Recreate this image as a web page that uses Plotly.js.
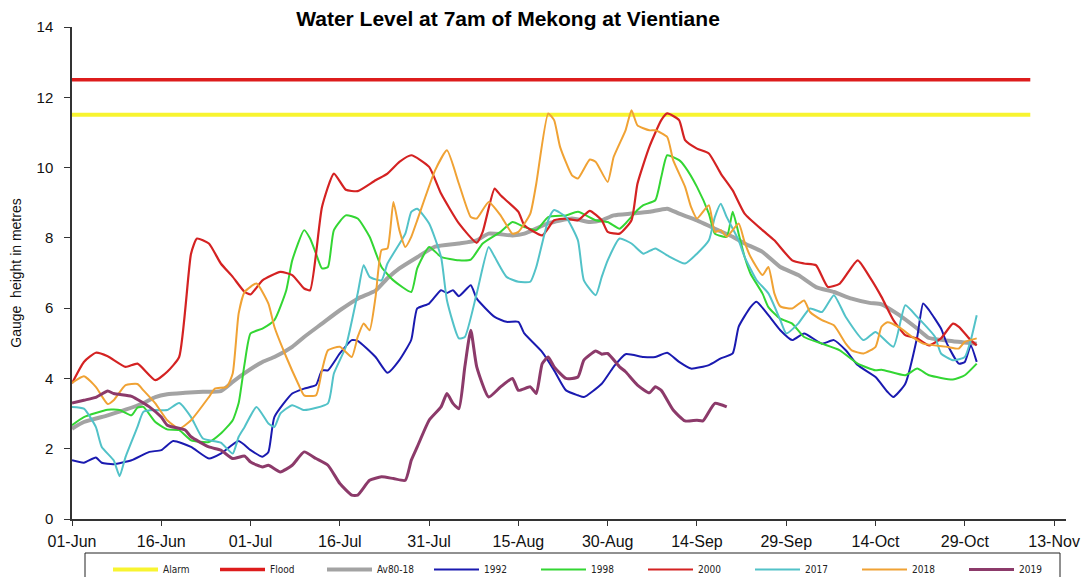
<!DOCTYPE html>
<html>
<head>
<meta charset="utf-8">
<script src="https://cdn.plot.ly/plotly-3.0.1.min.js"></script>
<style>html,body{margin:0;padding:0;background:#fff;}#chart{width:1086px;height:577px;}</style>
</head>
<body>
<div id="chart"></div>
<script>
// Day offsets are counted from 01-Jun
const startDate = Date.UTC(2019, 5, 1);

const alarmDays = [0, 161];
const alarmLevel = [11.5, 11.5];
const floodDays = [0, 161];
const floodLevel = [12.5, 12.5];

const avgDays = [0,2,6,9,12,14,16,19,22,25,27,29,32,34,37,39,42,45,48,51,53,55,58,61,65,68,70,74,76,80,84,87,89,91,94,97,100,102,105,108,111,113,116,119,122,125,128,131,134,136,139,142,144,148,152];
const avgLevel = [2.57,2.76,2.95,3.11,3.30,3.47,3.55,3.59,3.62,3.64,3.90,4.15,4.47,4.61,4.90,5.18,5.56,5.94,6.27,6.50,6.85,7.13,7.45,7.75,7.84,7.93,8.12,8.07,8.12,8.41,8.55,8.45,8.50,8.64,8.69,8.74,8.83,8.69,8.50,8.26,8.03,7.84,7.60,7.17,6.94,6.60,6.46,6.27,6.15,6.11,5.80,5.42,5.15,5.06,4.99];

const days1992 = [0,2,4,5,7,10,13,15,17,20,23,25,28,30,32,33,34,37,39,41,42,43,45,47,48,51,53,55,57,58,60,62,63,64,65,67,68,71,73,75,76,79,81,83,85,86,89,91,93,96,98,100,102,104,107,109,111,112,114,115,117,119,121,123,126,128,130,132,135,137,138,140,142,143,144,146,147,149,150,151,152];
const lvl1992 = [1.67,1.60,1.75,1.60,1.56,1.67,1.91,1.96,2.22,2.05,1.72,1.86,2.22,1.96,1.77,1.91,2.90,3.57,3.71,3.81,4.23,4.23,4.71,5.09,5.07,4.61,4.16,4.52,5.10,5.99,6.13,6.51,6.43,6.51,6.34,6.65,6.27,5.75,5.61,5.61,5.28,4.75,4.23,3.66,3.52,3.47,3.85,4.33,4.69,4.61,4.61,4.73,4.47,4.28,4.38,4.57,4.71,5.47,6.03,6.18,5.80,5.37,5.09,5.28,4.99,5.09,4.80,4.38,4.04,3.62,3.47,3.85,5.18,6.13,5.94,5.42,4.99,4.42,4.47,4.94,4.47];

const days1998 = [0,2,6,8,10,11,12,14,16,18,20,23,25,27,28,29,30,32,34,36,37,39,40,41,42,43,44,46,48,50,52,54,57,58,60,62,65,67,69,72,74,76,78,80,83,85,88,90,92,93,95,96,98,99,100,102,103,105,107,108,110,111,112,113,114,116,117,119,121,123,126,129,132,135,136,140,142,144,148,150,152];
const lvl1998 = [2.67,2.90,3.11,3.10,2.95,3.17,3.19,2.76,2.55,2.53,2.24,2.19,2.43,2.81,3.30,4.42,5.28,5.42,5.66,6.51,7.36,8.22,7.98,7.55,7.13,7.17,8.22,8.64,8.55,8.03,7.17,6.79,6.46,7.13,7.74,7.46,7.36,7.38,7.84,8.17,8.45,8.31,8.22,8.59,8.64,8.74,8.50,8.45,8.26,8.41,8.79,8.93,9.07,9.73,10.35,10.21,10.02,9.45,8.69,8.12,8.03,8.74,8.12,7.46,6.98,6.42,6.03,5.70,5.56,5.18,4.99,4.80,4.42,4.23,4.25,4.09,4.28,4.09,3.97,4.09,4.42];

const days2000 = [0,2,4,6,9,11,14,16,18,20,21,23,25,27,29,30,32,35,37,39,40,42,44,46,48,51,53,55,57,60,62,65,68,69,71,72,75,76,79,81,83,85,87,89,90,92,94,95,97,99,100,102,103,105,107,109,111,113,116,118,121,123,125,127,129,132,134,136,138,140,142,144,146,148,149,151,152];
const lvl2000 = [3.86,4.47,4.73,4.63,4.33,4.42,3.95,4.19,4.61,7.55,7.98,7.84,7.27,6.89,6.46,6.39,6.79,7.03,6.94,6.56,6.51,8.88,9.83,9.37,9.33,9.64,9.83,10.16,10.35,10.02,9.26,8.41,7.86,8.17,9.40,9.21,8.74,8.36,8.07,8.50,8.55,8.50,8.77,8.50,8.17,8.12,8.50,9.54,10.59,11.35,11.54,11.35,10.78,10.54,10.40,9.83,9.35,8.69,8.22,7.93,7.36,7.27,7.22,6.60,6.70,7.36,6.89,6.32,5.66,5.23,5.14,4.94,5.14,5.56,5.47,5.09,4.94];

const days2017 = [0,2,4,5,7,8,9,11,12,14,16,18,20,22,25,27,28,29,31,33,34,35,37,39,43,44,46,48,49,50,52,53,56,57,58,60,62,63,65,66,68,70,71,73,75,77,78,80,81,83,85,86,88,89,90,92,94,96,98,100,103,105,107,108,109,110,112,113,115,117,119,120,122,124,126,128,130,133,135,138,140,142,145,146,148,150,151,152];
const lvl2017 = [3.19,3.14,2.62,2.05,1.67,1.22,1.77,2.62,3.05,3.10,3.10,3.30,2.90,2.29,2.17,1.86,2.34,2.62,3.19,2.72,2.62,3.00,3.24,3.10,3.29,4.14,4.90,6.42,7.22,6.89,6.79,7.27,8.12,8.74,8.83,8.41,7.46,6.22,5.14,5.18,6.42,7.74,7.46,6.89,6.75,6.75,7.17,8.50,8.79,8.59,7.93,6.79,6.37,6.89,7.36,7.98,7.84,7.55,7.70,7.50,7.27,7.55,7.93,8.59,8.97,8.59,7.93,7.46,6.80,6.42,5.66,5.28,5.56,5.99,5.89,6.37,5.75,5.09,5.32,4.90,6.08,5.75,5.18,4.71,4.52,4.61,5.09,5.80];

const days2018 = [0,2,4,6,7,9,11,12,14,16,18,20,23,24,26,27,28,29,31,33,34,36,38,39,41,42,43,45,47,48,49,50,51,52,53,54,55,56,57,58,61,63,65,67,68,70,72,74,75,77,78,80,81,82,84,85,87,88,90,91,93,94,95,97,98,100,101,103,104,105,107,108,109,110,112,113,114,116,117,118,119,121,123,124,126,128,130,131,133,135,136,137,139,141,143,147,149,150,152];
const lvl2018 = [3.87,4.06,3.76,3.27,3.38,3.81,3.84,3.66,3.29,2.81,2.57,2.81,3.47,3.71,3.76,4.14,5.85,6.46,6.70,6.13,5.47,4.61,3.85,3.52,3.52,4.23,4.80,4.90,4.61,5.18,5.56,5.37,6.32,7.65,7.70,9.02,8.22,7.74,8.03,8.50,9.92,10.49,9.54,8.59,8.55,9.02,8.64,8.12,8.17,8.69,9.54,11.54,11.35,10.59,9.78,9.69,10.23,10.16,9.59,10.30,11.06,11.63,11.20,11.06,11.06,10.87,10.21,9.45,8.88,8.55,8.93,8.17,8.22,8.03,8.41,7.88,7.46,6.94,7.17,6.42,6.05,5.99,6.22,5.89,5.66,5.51,4.99,4.80,4.71,4.90,5.47,5.60,5.45,5.20,4.99,4.90,4.85,5.04,5.14];

const days2019 = [0,2,4,6,7,10,11,13,15,16,19,20,23,25,27,29,30,32,33,35,37,39,41,43,45,47,48,50,52,54,56,57,58,60,62,63,64,65,66,67,68,70,72,74,75,77,78,79,80,81,83,85,86,88,89,90,92,93,95,97,98,99,101,103,105,106,108,110];
const lvl2019 = [3.30,3.38,3.46,3.64,3.57,3.49,3.40,3.19,2.90,2.67,2.53,2.34,2.05,1.96,1.72,1.79,1.62,1.48,1.53,1.34,1.53,1.91,1.72,1.53,1.01,0.68,0.68,1.10,1.20,1.15,1.10,1.67,2.05,2.81,3.19,3.57,3.29,3.14,4.33,5.37,4.33,3.47,3.76,4.00,3.66,3.76,3.57,4.42,4.61,4.33,4.00,4.04,4.52,4.78,4.69,4.71,4.33,4.19,3.81,3.59,3.76,3.66,3.10,2.79,2.81,2.79,3.29,3.19];

const tickStep = 15;       // days between x ticks
const axisEndDay = 167;    // right end of x axis

function toDate(d) {
  const t = new Date(startDate + d * 86400000).toISOString();
  return t.slice(0, 10) + ' ' + t.slice(11, 19);
}

const series = [
  {name: 'Alarm',   days: alarmDays, vals: alarmLevel, color: '#f8f430', width: 4},
  {name: 'Flood',   days: floodDays, vals: floodLevel, color: '#dd1c1c', width: 3.5},
  {name: 'Av80-18', days: avgDays,   vals: avgLevel,   color: '#a3a3a3', width: 4},
  {name: '1992',    days: days1992,  vals: lvl1992,    color: '#1a1ab0', width: 2},
  {name: '1998',    days: days1998,  vals: lvl1998,    color: '#33d633', width: 2},
  {name: '2000',    days: days2000,  vals: lvl2000,    color: '#d42222', width: 2.2},
  {name: '2017',    days: days2017,  vals: lvl2017,    color: '#52c2c8', width: 2},
  {name: '2018',    days: days2018,  vals: lvl2018,    color: '#f0a234', width: 2},
  {name: '2019',    days: days2019,  vals: lvl2019,    color: '#8c3a6a', width: 3}
];

const traces = series.map(s => ({
  type: 'scatter',
  mode: 'lines',
  name: s.name,
  x: s.days.map(toDate),
  y: s.vals,
  line: {color: s.color, width: s.width, shape: 'spline', smoothing: 0.5},
  hoverinfo: 'x+y+name'
}));

const fontMain = 'Liberation Sans, Arial, sans-serif';
const H = 577, W = 1086, L = 72, R = 20, T = 27, B = 58;
const pw = W - L - R, ph = H - T - B;
const px = v => (v - L) / pw;
const py = v => (H - B - v) / ph;

const layout = {
  width: W, height: H,
  margin: {l: L, r: R, t: T, b: B, autoexpand: false},
  paper_bgcolor: '#ffffff',
  plot_bgcolor: '#ffffff',
  showlegend: true,
  title: {
    text: '<b>Water Level at 7am of Mekong at Vientiane</b>',
    font: {family: fontMain, size: 21, color: '#000'},
    x: 508 / W, xref: 'container', xanchor: 'center',
    y: 1 - 19 / H, yref: 'container', yanchor: 'middle'
  },
  xaxis: {
    type: 'date',
    range: [toDate(0), toDate(axisEndDay)],
    tick0: toDate(0),
    dtick: tickStep * 86400000,
    tickformat: '%d-%b',
    ticks: 'outside', ticklen: 5, tickcolor: '#333', tickwidth: 1.2,
    showline: true, linecolor: '#333', linewidth: 1.5,
    showgrid: false, zeroline: false,
    ticklabelstandoff: 2,
    tickfont: {family: fontMain, size: 16, color: '#111'}
  },
  yaxis: {
    range: [0, 14], dtick: 2,
    ticks: 'outside', ticklen: 6, tickcolor: '#333', tickwidth: 1.2,
    showline: true, linecolor: '#333', linewidth: 1.5,
    showgrid: false, zeroline: false,
    ticklabelstandoff: 8,
    tickfont: {family: fontMain, size: 15, color: '#111'},
    title: {text: 'Gauge  height in metres', font: {family: fontMain, size: 14, color: '#111'}, standoff: 12}
  },
  legend: {
    orientation: 'h',
    xref: 'container', x: 108 / W, xanchor: 'left',
    yref: 'container', y: 1 - 555 / H, yanchor: 'top',
    borderwidth: 0,
    bgcolor: 'rgba(0,0,0,0)',
    itemwidth: 45,
    entrywidth: 47,
    entrywidthmode: 'pixels',
    font: {family: 'Liberation Sans Narrow, Arial Narrow, DejaVu Sans Condensed, sans-serif', size: 10, color: '#222'}
  },
  shapes: [{
    type: 'rect', xref: 'paper', yref: 'paper',
    x0: px(85), x1: px(1060), y0: py(553), y1: py(600),
    line: {color: '#222', width: 1}, fillcolor: 'rgba(0,0,0,0)', layer: 'above'
  }]
};

Plotly.newPlot('chart', traces, layout, {displayModeBar: false, responsive: false});
</script>
</body>
</html>
